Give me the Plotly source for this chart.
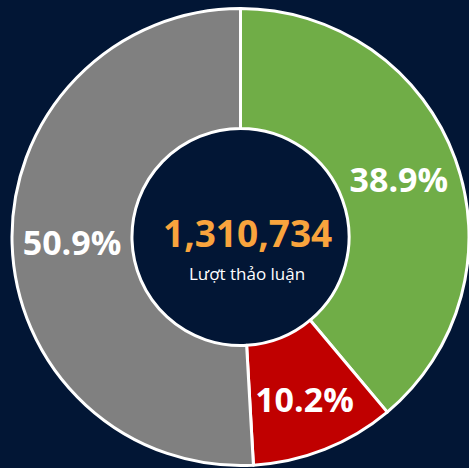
import plotly.graph_objects as go

labels = ["Tích cực", "Tiêu cực", "Trung lập"]
values = [509876, 133695, 667163]
colors = ["#70AD47", "#C00000", "#808080"]
total_text = "1,310,734"
center_label = "Lượt thảo luận"

bg = "#021635"

fig = go.Figure(go.Pie(
    labels=labels,
    values=values,
    hole=0.475,
    sort=False,
    direction="clockwise",
    rotation=0,
    marker=dict(colors=colors, line=dict(color="white", width=3)),
    texttemplate="%{percent:.1%}",
    textposition="inside",
    insidetextorientation="horizontal",
    textfont=dict(family="Open Sans", size=34, color="white", weight="bold"),
    showlegend=False,
    hoverinfo="label+value+percent",
))

fig.update_layout(
    width=469, height=468,
    margin=dict(l=12, r=0, t=6, b=0),
    paper_bgcolor=bg,
    plot_bgcolor=bg,
    annotations=[
        dict(text=total_text, x=0.515, y=0.509, xref="paper", yref="paper",
             showarrow=False, font=dict(family="Open Sans", size=37, color="#F9A43D", weight="bold")),
        dict(text=center_label, x=0.515, y=0.422, xref="paper", yref="paper",
             showarrow=False, font=dict(family="Open Sans", size=17, color="white")),
    ],
)

fig.write_html("out.html", config={"displayModeBar": False},
               post_script="document.body.style.margin='0';document.body.style.background='%s';" % bg)
